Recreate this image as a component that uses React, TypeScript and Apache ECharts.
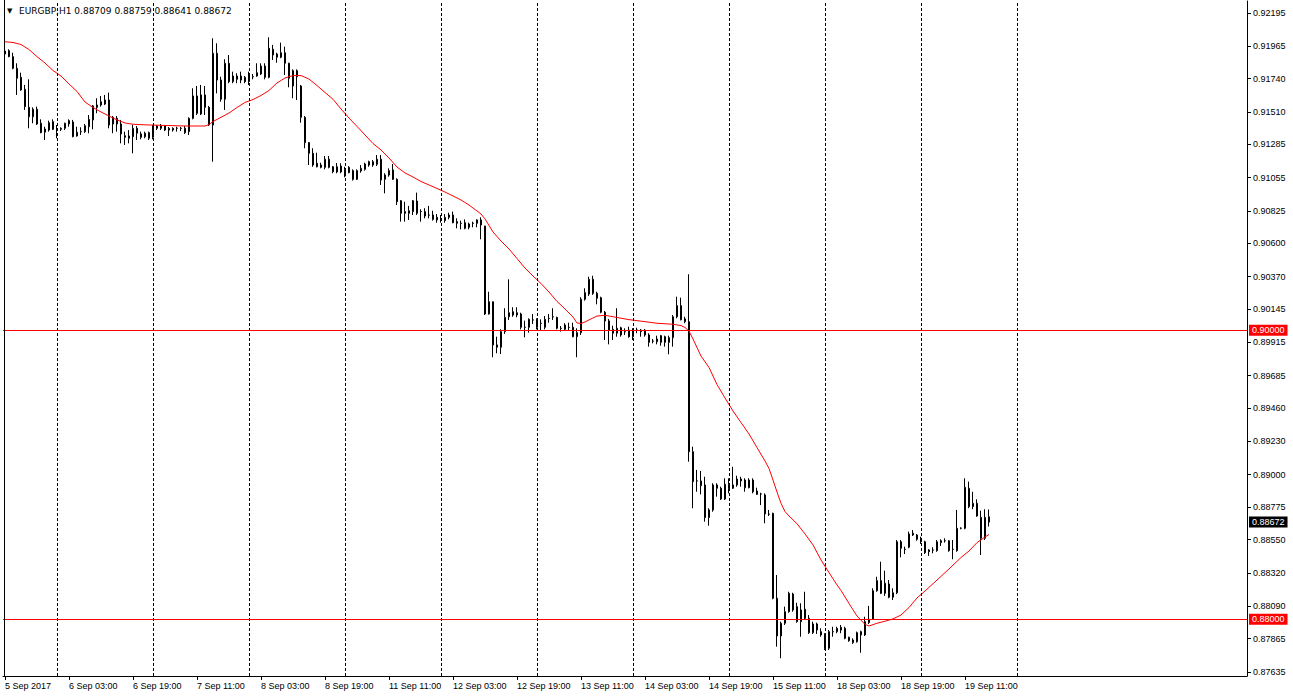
import React, { useEffect, useRef } from "react";
import * as echarts from "echarts";

const symbolTitle = "EURGBP,H1";
const lastBarText = "0.88709 0.88759 0.88641 0.88672";

const xTickLabels = [
  "5 Sep 2017", "6 Sep 03:00", "6 Sep 19:00", "7 Sep 11:00", "8 Sep 03:00", "8 Sep 19:00",
  "11 Sep 11:00", "12 Sep 03:00", "12 Sep 19:00", "13 Sep 11:00", "14 Sep 03:00", "14 Sep 19:00",
  "15 Sep 11:00", "18 Sep 03:00", "18 Sep 19:00", "19 Sep 11:00",
];
const xLabelEvery = 16;
const totalSlots = 311;
const dayStartBars = [13, 37, 61, 85, 109, 133, 157, 181, 205, 229, 253];

const yTickLabels = [
  "0.92195", "0.91965", "0.91740", "0.91510", "0.91285", "0.91055", "0.90825", "0.90600",
  "0.90370", "0.90145", "0.89915", "0.89685", "0.89460", "0.89230", "0.89000", "0.88775",
  "0.88550", "0.88320", "0.88090", "0.87865", "0.87635",
];
const yMin = 0.87607;
const yMax = 0.92278;

const levelLines = [0.9, 0.88];
const levelLabels = ["0.90000", "0.88000"];
const lastPrice = 0.88672;
const lastPriceLabel = "0.88672";

const opens = [
  0.91911, 0.91934, 0.91893, 0.91812, 0.91750, 0.91667, 0.91542, 0.91477, 0.91529, 0.91432,
  0.91370, 0.91385, 0.91443, 0.91392, 0.91390, 0.91397, 0.91450, 0.91441, 0.91344, 0.91374,
  0.91374, 0.91408, 0.91455, 0.91542, 0.91558, 0.91565, 0.91593, 0.91427, 0.91466, 0.91427,
  0.91346, 0.91344, 0.91339, 0.91397, 0.91335, 0.91339, 0.91328, 0.91335, 0.91397, 0.91397,
  0.91413, 0.91385, 0.91385, 0.91397, 0.91397, 0.91397, 0.91374, 0.91466, 0.91621, 0.91496,
  0.91628, 0.91542, 0.91420, 0.91916, 0.91731, 0.91598, 0.91847, 0.91720, 0.91736, 0.91759,
  0.91750, 0.91720, 0.91754, 0.91759, 0.91773, 0.91828, 0.91750, 0.91944, 0.91911, 0.91889,
  0.91920, 0.91847, 0.91690, 0.91796, 0.91690, 0.91473, 0.91298, 0.91224, 0.91155, 0.91143,
  0.91127, 0.91183, 0.91131, 0.91095, 0.91095, 0.91113, 0.91090, 0.91104, 0.91044, 0.91102,
  0.91113, 0.91143, 0.91143, 0.91148, 0.91183, 0.91044, 0.91074, 0.91109, 0.91044, 0.90896,
  0.90821, 0.90809, 0.90821, 0.90894, 0.90821, 0.90821, 0.90797, 0.90797, 0.90781, 0.90767,
  0.90758, 0.90781, 0.90797, 0.90751, 0.90740, 0.90744, 0.90712, 0.90740, 0.90740, 0.90763,
  0.90721, 0.90112, 0.90197, 0.89898, 0.89882, 0.89990, 0.90093, 0.90128, 0.90121, 0.90112,
  0.90020, 0.90020, 0.90071, 0.90075, 0.90048, 0.90020, 0.90082, 0.90093, 0.90089, 0.90013,
  0.90006, 0.90020, 0.90020, 0.89955, 0.89983, 0.90214, 0.90250, 0.90352, 0.90255, 0.90225,
  0.90124, 0.90064, 0.90006, 0.89979, 0.90017, 0.89990, 0.90001, 0.89955, 0.90001, 0.90001,
  0.90001, 0.89967, 0.89925, 0.89920, 0.89962, 0.89955, 0.89916, 0.89948, 0.90093, 0.90170,
  0.90078, 0.90059, 0.89159, 0.88957, 0.88957, 0.88929, 0.88703, 0.88756, 0.88929, 0.88906,
  0.88832, 0.88934, 0.88906, 0.88929, 0.88957, 0.88963, 0.88910, 0.88963, 0.88887, 0.88867,
  0.88860, 0.88728, 0.88733, 0.88145, 0.87884, 0.87972, 0.88052, 0.88174, 0.88087, 0.87983,
  0.88069, 0.88006, 0.87907, 0.87967, 0.87914, 0.87891, 0.87799, 0.87914, 0.87914, 0.87925,
  0.87937, 0.87875, 0.87856, 0.87844, 0.87914, 0.87891, 0.87976, 0.87999, 0.88197, 0.88267,
  0.88179, 0.88244, 0.88152, 0.88183, 0.88536, 0.88484, 0.88498, 0.88595, 0.88583, 0.88560,
  0.88536, 0.88479, 0.88479, 0.88474, 0.88530, 0.88543, 0.88543, 0.88484, 0.88474, 0.88629,
  0.88629, 0.88906, 0.88779, 0.88802, 0.88705, 0.88560, 0.88709,
];
const highs = [
  0.92022, 0.91944, 0.91920, 0.91847, 0.91782, 0.91697, 0.91736, 0.91542, 0.91547, 0.91459,
  0.91408, 0.91450, 0.91459, 0.91420, 0.91404, 0.91436, 0.91459, 0.91455, 0.91408, 0.91404,
  0.91427, 0.91489, 0.91558, 0.91605, 0.91621, 0.91628, 0.91644, 0.91482, 0.91482, 0.91455,
  0.91374, 0.91385, 0.91420, 0.91413, 0.91374, 0.91374, 0.91374, 0.91420, 0.91420, 0.91427,
  0.91420, 0.91406, 0.91404, 0.91408, 0.91406, 0.91413, 0.91473, 0.91674, 0.91690, 0.91697,
  0.91690, 0.91552, 0.92020, 0.91985, 0.91754, 0.91875, 0.91904, 0.91789, 0.91778, 0.91789,
  0.91759, 0.91789, 0.91773, 0.91847, 0.91847, 0.91847, 0.92027, 0.91974, 0.91920, 0.91990,
  0.91962, 0.91851, 0.91805, 0.91805, 0.91697, 0.91482, 0.91300, 0.91259, 0.91228, 0.91159,
  0.91205, 0.91205, 0.91136, 0.91157, 0.91155, 0.91131, 0.91136, 0.91113, 0.91113, 0.91143,
  0.91159, 0.91173, 0.91178, 0.91212, 0.91212, 0.91086, 0.91120, 0.91150, 0.91051, 0.90901,
  0.90889, 0.90860, 0.90901, 0.90952, 0.90837, 0.90844, 0.90860, 0.90827, 0.90804, 0.90797,
  0.90804, 0.90813, 0.90821, 0.90774, 0.90758, 0.90767, 0.90744, 0.90751, 0.90767, 0.90781,
  0.90722, 0.90266, 0.90198, 0.89955, 0.90006, 0.90152, 0.90352, 0.90159, 0.90159, 0.90121,
  0.90066, 0.90082, 0.90112, 0.90082, 0.90075, 0.90098, 0.90112, 0.90152, 0.90093, 0.90029,
  0.90048, 0.90052, 0.90052, 0.90013, 0.90228, 0.90290, 0.90370, 0.90377, 0.90266, 0.90232,
  0.90133, 0.90078, 0.90031, 0.90152, 0.90024, 0.90013, 0.90024, 0.90013, 0.90017, 0.90008,
  0.90008, 0.89979, 0.89939, 0.89962, 0.89967, 0.89962, 0.89962, 0.90105, 0.90232, 0.90225,
  0.90093, 0.90387, 0.89194, 0.89033, 0.89026, 0.88986, 0.88768, 0.88941, 0.88941, 0.88917,
  0.88975, 0.88975, 0.89055, 0.88993, 0.88986, 0.88975, 0.88975, 0.88975, 0.88910, 0.88875,
  0.88871, 0.88756, 0.88737, 0.88306, 0.87983, 0.88087, 0.88190, 0.88183, 0.88114, 0.88110,
  0.88190, 0.88029, 0.87983, 0.87976, 0.87937, 0.87903, 0.87925, 0.87948, 0.87948, 0.87960,
  0.87948, 0.87879, 0.87868, 0.87914, 0.87921, 0.88017, 0.88092, 0.88214, 0.88294, 0.88398,
  0.88336, 0.88271, 0.88214, 0.88548, 0.88548, 0.88502, 0.88606, 0.88617, 0.88590, 0.88571,
  0.88543, 0.88484, 0.88498, 0.88548, 0.88553, 0.88560, 0.88548, 0.88548, 0.88756, 0.88636,
  0.88975, 0.88952, 0.88882, 0.88830, 0.88751, 0.88761, 0.88759,
];
const lows = [
  0.91898, 0.91889, 0.91805, 0.91628, 0.91657, 0.91524, 0.91397, 0.91432, 0.91420, 0.91363,
  0.91316, 0.91374, 0.91385, 0.91328, 0.91378, 0.91385, 0.91408, 0.91335, 0.91339, 0.91351,
  0.91365, 0.91363, 0.91390, 0.91501, 0.91547, 0.91558, 0.91397, 0.91363, 0.91374, 0.91293,
  0.91282, 0.91293, 0.91224, 0.91316, 0.91321, 0.91328, 0.91316, 0.91321, 0.91385, 0.91385,
  0.91378, 0.91344, 0.91374, 0.91374, 0.91378, 0.91358, 0.91351, 0.91459, 0.91489, 0.91489,
  0.91489, 0.91413, 0.91166, 0.91639, 0.91581, 0.91524, 0.91709, 0.91709, 0.91709, 0.91709,
  0.91709, 0.91697, 0.91736, 0.91754, 0.91766, 0.91736, 0.91743, 0.91870, 0.91851, 0.91882,
  0.91766, 0.91681, 0.91605, 0.91593, 0.91436, 0.91259, 0.91143, 0.91131, 0.91127, 0.91120,
  0.91113, 0.91120, 0.91086, 0.91086, 0.91086, 0.91058, 0.91086, 0.91035, 0.91039, 0.91090,
  0.91104, 0.91131, 0.91131, 0.91136, 0.91005, 0.90947, 0.91062, 0.91039, 0.90866, 0.90751,
  0.90751, 0.90763, 0.90797, 0.90797, 0.90751, 0.90774, 0.90774, 0.90758, 0.90744, 0.90744,
  0.90744, 0.90767, 0.90740, 0.90705, 0.90698, 0.90698, 0.90698, 0.90712, 0.90712, 0.90629,
  0.90105, 0.90108, 0.89813, 0.89840, 0.89835, 0.89974, 0.90071, 0.90093, 0.90089, 0.90006,
  0.89951, 0.89983, 0.90043, 0.90006, 0.89997, 0.90006, 0.90052, 0.90071, 0.90006, 0.89990,
  0.89997, 0.90001, 0.89951, 0.89813, 0.89967, 0.90204, 0.90237, 0.90244, 0.90179, 0.90117,
  0.89932, 0.89902, 0.89932, 0.89955, 0.89955, 0.89967, 0.89948, 0.89932, 0.89979, 0.89955,
  0.89955, 0.89886, 0.89909, 0.89902, 0.89893, 0.89886, 0.89833, 0.89886, 0.90082, 0.90068,
  0.90048, 0.89090, 0.88768, 0.88882, 0.88864, 0.88675, 0.88647, 0.88744, 0.88848, 0.88825,
  0.88825, 0.88871, 0.88901, 0.88917, 0.88917, 0.88882, 0.88906, 0.88871, 0.88860, 0.88790,
  0.88664, 0.88714, 0.88138, 0.87810, 0.87730, 0.87960, 0.88045, 0.88052, 0.87976, 0.87879,
  0.87999, 0.87898, 0.87898, 0.87898, 0.87879, 0.87787, 0.87787, 0.87879, 0.87903, 0.87903,
  0.87861, 0.87844, 0.87829, 0.87838, 0.87768, 0.87884, 0.87967, 0.87995, 0.88190, 0.88174,
  0.88161, 0.88145, 0.88133, 0.88174, 0.88428, 0.88451, 0.88491, 0.88576, 0.88543, 0.88521,
  0.88451, 0.88438, 0.88456, 0.88467, 0.88507, 0.88530, 0.88467, 0.88415, 0.88467, 0.88622,
  0.88622, 0.88768, 0.88761, 0.88709, 0.88444, 0.88548, 0.88641,
];
const closes = [
  0.91932, 0.91893, 0.91812, 0.91743, 0.91662, 0.91547, 0.91477, 0.91529, 0.91427, 0.91367,
  0.91392, 0.91436, 0.91390, 0.91391, 0.91397, 0.91432, 0.91427, 0.91339, 0.91370, 0.91373,
  0.91415, 0.91459, 0.91552, 0.91558, 0.91581, 0.91593, 0.91420, 0.91473, 0.91427, 0.91358,
  0.91335, 0.91328, 0.91397, 0.91363, 0.91358, 0.91363, 0.91367, 0.91413, 0.91413, 0.91413,
  0.91385, 0.91397, 0.91397, 0.91398, 0.91396, 0.91367, 0.91466, 0.91621, 0.91501, 0.91628,
  0.91542, 0.91420, 0.91916, 0.91731, 0.91598, 0.91847, 0.91720, 0.91759, 0.91759, 0.91731,
  0.91720, 0.91759, 0.91753, 0.91782, 0.91828, 0.91750, 0.91951, 0.91904, 0.91889, 0.91920,
  0.91847, 0.91743, 0.91796, 0.91754, 0.91473, 0.91298, 0.91224, 0.91143, 0.91131, 0.91127,
  0.91183, 0.91127, 0.91097, 0.91131, 0.91136, 0.91067, 0.91127, 0.91044, 0.91104, 0.91120,
  0.91150, 0.91166, 0.91166, 0.91183, 0.91039, 0.91074, 0.91104, 0.91044, 0.90889, 0.90809,
  0.90809, 0.90827, 0.90896, 0.90809, 0.90820, 0.90790, 0.90796, 0.90767, 0.90763, 0.90766,
  0.90781, 0.90797, 0.90744, 0.90740, 0.90739, 0.90705, 0.90735, 0.90739, 0.90763, 0.90728,
  0.90112, 0.90197, 0.89898, 0.89882, 0.89990, 0.90089, 0.90121, 0.90105, 0.90105, 0.90020,
  0.90019, 0.90075, 0.90070, 0.90020, 0.90047, 0.90075, 0.90081, 0.90092, 0.90013, 0.90012,
  0.90036, 0.90019, 0.89955, 0.89983, 0.90214, 0.90260, 0.90352, 0.90255, 0.90221, 0.90124,
  0.90064, 0.90001, 0.89979, 0.90013, 0.89967, 0.89989, 0.89955, 0.90008, 0.90000, 0.89990,
  0.89967, 0.89916, 0.89924, 0.89939, 0.89916, 0.89916, 0.89948, 0.90093, 0.90170, 0.90072,
  0.90059, 0.89159, 0.88952, 0.88956, 0.88924, 0.88703, 0.88756, 0.88929, 0.88906, 0.88832,
  0.88934, 0.88906, 0.88929, 0.88970, 0.88970, 0.88910, 0.88963, 0.88882, 0.88864, 0.88866,
  0.88728, 0.88727, 0.88145, 0.87884, 0.87972, 0.88052, 0.88179, 0.88064, 0.87983, 0.88064,
  0.88006, 0.87907, 0.87967, 0.87925, 0.87891, 0.87799, 0.87914, 0.87913, 0.87937, 0.87944,
  0.87868, 0.87851, 0.87838, 0.87907, 0.87891, 0.87983, 0.87999, 0.88197, 0.88267, 0.88179,
  0.88249, 0.88152, 0.88183, 0.88536, 0.88491, 0.88483, 0.88590, 0.88583, 0.88553, 0.88536,
  0.88460, 0.88467, 0.88478, 0.88536, 0.88543, 0.88542, 0.88474, 0.88483, 0.88629, 0.88630,
  0.88913, 0.88779, 0.88802, 0.88714, 0.88560, 0.88705, 0.88672,
];

const maBars = [
  0, 2, 4, 6, 8, 10, 12, 14, 16, 18, 20, 22, 24, 26, 28, 30, 32, 35, 40, 45,
  50, 51, 52, 54, 56, 58, 60, 62, 64, 66, 68, 70, 72, 74, 76, 78, 80, 82, 84, 86,
  88, 90, 92, 94, 96, 98, 100, 102, 104, 106, 108, 110, 112, 114, 116, 118, 119, 120, 122, 124,
  126, 128, 130, 132, 134, 136, 138, 140, 142, 143, 144, 145, 146, 148, 150, 153, 156, 160, 163, 167,
  169, 170, 171, 172, 174, 176, 178, 180, 182, 184, 186, 188, 190, 191, 192, 193, 194, 195, 196, 198,
  200, 202, 204, 206, 208, 209, 211, 213, 215, 216, 218, 220, 222, 224, 226, 228, 230, 233, 236, 239,
  241, 243, 245, 246,
];
const maValues = [
  0.91996, 0.91991, 0.91977, 0.91942, 0.91893, 0.91849, 0.91797, 0.91759, 0.91704, 0.91652,
  0.91579, 0.91541, 0.91510, 0.91482, 0.91455, 0.91434, 0.91425, 0.91421, 0.91417, 0.91413,
  0.91413, 0.91423, 0.91444, 0.91473, 0.91503, 0.91541, 0.91576, 0.91596, 0.91624, 0.91659,
  0.91711, 0.91745, 0.91762, 0.91762, 0.91738, 0.91693, 0.91645, 0.91598, 0.91531, 0.91468,
  0.91410, 0.91351, 0.91292, 0.91247, 0.91192, 0.91129, 0.91088, 0.91060, 0.91029, 0.91005,
  0.90981, 0.90956, 0.90929, 0.90901, 0.90866, 0.90825, 0.90804, 0.90770, 0.90680, 0.90617,
  0.90562, 0.90496, 0.90430, 0.90375, 0.90323, 0.90264, 0.90199, 0.90147, 0.90091, 0.90050,
  0.90046, 0.90057, 0.90071, 0.90098, 0.90103, 0.90088, 0.90073, 0.90059, 0.90048, 0.90041,
  0.90032, 0.90019, 0.89994, 0.89939, 0.89821, 0.89742, 0.89624, 0.89531, 0.89441, 0.89361,
  0.89282, 0.89188, 0.89095, 0.89043, 0.88963, 0.88880, 0.88802, 0.88745, 0.88714, 0.88661,
  0.88590, 0.88514, 0.88410, 0.88323, 0.88237, 0.88199, 0.88109, 0.88022, 0.87964, 0.87953,
  0.87972, 0.87986, 0.88002, 0.88029, 0.88081, 0.88147, 0.88195, 0.88271, 0.88348, 0.88427,
  0.88472, 0.88530, 0.88569, 0.88586,
];

const FONT = "Liberation Sans";
const TITLE_FONT = "DejaVu Sans";

export default function App() {
  const ref = useRef<HTMLDivElement>(null);

  useEffect(() => {
    if (!ref.current) return;
    const chart = echarts.init(ref.current, undefined, { renderer: "svg" });

    const categories = Array.from({ length: totalSlots }, (_, i) => String(i));
    const candleData = opens.map((o, i) => [o, closes[i], lows[i], highs[i]]);
    const maData = maBars.map((b, i) => [b, maValues[i]]);
    const yTickValues = yTickLabels.map((s) => parseFloat(s));
    const lastLabelIdx = (xTickLabels.length - 1) * xLabelEvery;
    const showX = (idx: number) => idx % xLabelEvery === 0 && idx <= lastLabelIdx;

    const axisBadge = (text: string, bg: string) => ({
      show: true,
      position: "end",
      distance: 2,
      formatter: text,
      color: "#fff",
      backgroundColor: bg,
      padding: [1, 3, 1, 3],
      fontFamily: FONT,
      fontSize: 9,
    });

    chart.setOption({
      animation: false,
      backgroundColor: "#ffffff",
      grid: { left: 3, right: 46, top: 1, bottom: 22, show: false },
      xAxis: {
        type: "category",
        data: categories,
        boundaryGap: true,
        axisLine: { show: true, lineStyle: { color: "#000", width: 1 } },
        axisTick: { show: true, interval: (idx: number) => showX(idx), alignWithLabel: true, length: 4, lineStyle: { color: "#000" } },
        axisLabel: {
          interval: (idx: number) => showX(idx),
          formatter: (_v: string, idx: number) => xTickLabels[idx / xLabelEvery] ?? "",
          align: "left",
          margin: 5,
          color: "#000",
          fontFamily: FONT,
          fontSize: 9,
        },
        splitLine: { show: false },
      },
      yAxis: {
        type: "value",
        position: "right",
        min: yMin,
        max: yMax,
        scale: true,
        axisLine: { show: true, lineStyle: { color: "#000", width: 1 } },
        axisTick: { show: true, customValues: yTickValues, length: 4, lineStyle: { color: "#000" } },
        axisLabel: {
          customValues: yTickValues,
          formatter: (v: number) => v.toFixed(5),
          color: "#000",
          fontFamily: FONT,
          fontSize: 9,
          margin: 6,
        },
        splitLine: { show: false },
      },
      series: [
        {
          type: "line",
          name: "daygrid",
          data: [],
          z: 1,
          silent: true,
          markLine: {
            silent: true,
            symbol: ["none", "none"],
            label: { show: false },
            lineStyle: { color: "#000", type: [3, 2], width: 1 },
            data: dayStartBars.map((b) => ({ xAxis: b })),
          },
        },
        {
          type: "candlestick",
          name: "EURGBP",
          data: candleData,
          z: 3,
          barWidth: 2,
          itemStyle: {
            color: "#00ff00",
            color0: "#ff0000",
            borderColor: "#000",
            borderColor0: "#000",
            borderColorDoji: "#000",
            borderWidth: 1,
          },
        },
        {
          type: "line",
          name: "MA",
          data: maData,
          z: 4,
          symbol: "none",
          showSymbol: false,
          lineStyle: { color: "#ff0000", width: 1 },
        },
        {
          type: "line",
          name: "levels",
          data: [],
          z: 5,
          markLine: {
            silent: true,
            precision: 5,
            symbol: ["none", "none"],
            data: [
              ...levelLines.map((v, i) => ({
                yAxis: v,
                lineStyle: { color: "#ff0000", width: 1, type: "solid" },
                label: axisBadge(levelLabels[i], "#ff0000"),
              })),
              {
                yAxis: lastPrice,
                lineStyle: { color: "rgba(0,0,0,0)", width: 1, type: "solid" },
                label: axisBadge(lastPriceLabel, "#000000"),
              },
            ],
          },
        },
      ],
      graphic: [
        {
          type: "line",
          shape: { x1: 4.5, y1: 0, x2: 4.5, y2: 677 },
          style: { stroke: "#000", lineWidth: 1 },
          z: 10,
        },
        {
          type: "text",
          left: 7,
          top: 7,
          style: { text: "▼", fill: "#000", font: `7px ${TITLE_FONT}` },
        },
        {
          type: "text",
          left: 19,
          top: 6,
          style: { text: `${symbolTitle} ${lastBarText}`, fill: "#000", font: `9px ${TITLE_FONT}` },
        },
      ],
    });

    return () => chart.dispose();
  }, []);

  return (
    <div
      ref={ref}
      style={{ position: "fixed", left: 0, top: 0, width: 1293, height: 698, background: "#fff" }}
    />
  );
}
